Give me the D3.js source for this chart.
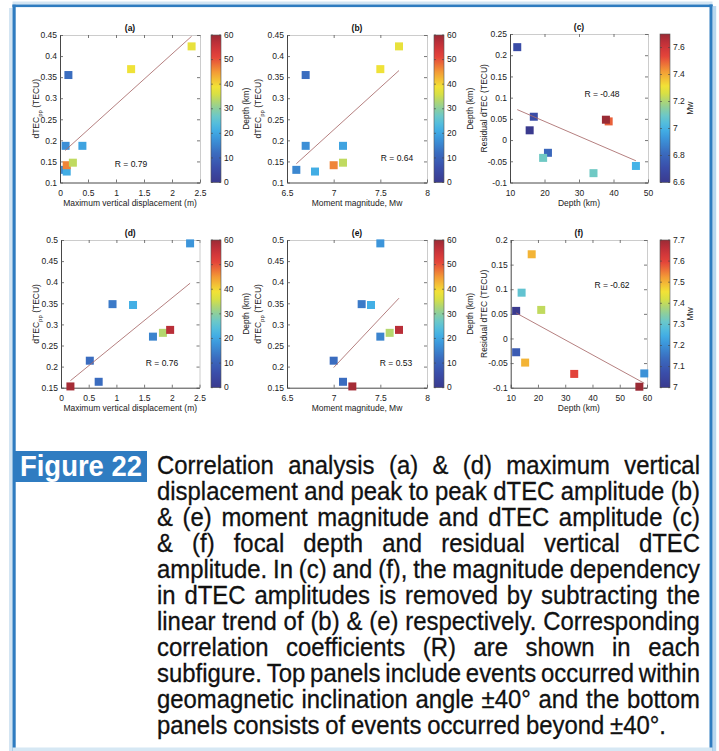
<!DOCTYPE html>
<html>
<head>
<meta charset="utf-8">
<script src="https://cdn.jsdelivr.net/npm/d3@7"></script>
<style>
  html, body { margin: 0; padding: 0; background: #fff; }
  svg { display: block; }
</style>
</head>
<body>
<svg id="fig" width="719" height="751"></svg>
<script>
// ---------------- data ----------------
// Upper row: events within geomagnetic inclination ±40°
const topDisp  = [0.09, 0.15, 0.10, 0.12, 0.12, 0.40, 0.23, 1.27, 2.35];
const topMw    = [6.6, 6.7, 6.7, 6.8, 7.0, 7.1, 7.1, 7.5, 7.7];
const topDtec  = [0.130, 0.355, 0.187, 0.126, 0.141, 0.187, 0.147, 0.369, 0.423];
const topDepth = [15.7, 12.1, 16.9, 21.0, 46.5, 19.6, 34.2, 38.6, 37.8];
const topResid = [0.023, 0.219, 0.055, -0.030, -0.061, -0.042, -0.078, 0.044, 0.048];

// Lower row: events beyond ±40°
const botDisp  = [2.33, 0.93, 1.30, 1.66, 1.84, 1.97, 0.52, 0.68, 0.17];
const botMw    = [7.5, 7.3, 7.4, 7.5, 7.6, 7.7, 7.0, 7.1, 7.2];
const botDtec  = [0.492, 0.348, 0.346, 0.271, 0.280, 0.287, 0.214, 0.164, 0.153];
const botDepth = [17.7, 14.0, 21.2, 15.3, 33.3, 57.2, 12.0, 12.0, 59.0];
const botResid = [0.171, 0.093, 0.058, -0.049, -0.072, -0.098, 0.056, -0.028, -0.071];

// Tick values
const dispTicks     = [0, 0.5, 1, 1.5, 2, 2.5];
const mwTicks       = [6.5, 7, 7.5, 8];
const depthTicksTop = [10, 20, 30, 40, 50];
const depthTicksBot = [10, 20, 30, 40, 50, 60];
const dtecTopTicks  = [0.1, 0.15, 0.2, 0.25, 0.3, 0.35, 0.4, 0.45];
const dtecBotTicks  = [0.15, 0.2, 0.25, 0.3, 0.35, 0.4, 0.45, 0.5];
const residTopTicks = [-0.1, -0.05, 0, 0.05, 0.1, 0.15, 0.2, 0.25];
const residBotTicks = [-0.1, -0.05, 0, 0.05, 0.1, 0.15, 0.2];
const depthCbTicks  = [0, 10, 20, 30, 40, 50, 60];
const mwCbTicksTop  = [6.6, 6.8, 7, 7.2, 7.4, 7.6];
const mwCbTicksBot  = [7, 7.1, 7.2, 7.3, 7.4, 7.5, 7.6, 7.7];

// Correlation coefficients printed in each panel
const rLabels = { a: "R = 0.79", b: "R = 0.64", c: "R = -0.48", d: "R = 0.76", e: "R = 0.53", f: "R = -0.62" };

// Caption
const figureTag = "Figure 22";
const captionLines = [
  "Correlation analysis (a) & (d) maximum vertical",
  "displacement and peak to peak dTEC amplitude (b)",
  "& (e) moment magnitude and dTEC amplitude (c)",
  "& (f) focal depth and residual vertical dTEC",
  "amplitude. In (c) and (f), the magnitude dependency",
  "in dTEC amplitudes is removed by subtracting the",
  "linear trend of (b) & (e) respectively. Corresponding",
  "correlation coefficients (R) are shown in each",
  "subfigure. Top panels include events occurred within",
  "geomagnetic inclination angle \u00b140\u00b0 and the bottom",
  "panels consists of events occurred beyond \u00b140\u00b0."
];

// ---------------- styling ----------------
const FONT = "'Liberation Sans', Arial, Helvetica, sans-serif";
const CAPFONT = "'Liberation Sans Narrow', 'Liberation Sans', Arial, sans-serif";
const TXT = "#222";

// jet-like colormap (as printed)
const paletteStops  = [0, 0.1, 0.2, 0.3, 0.37, 0.45, 0.52, 0.6, 0.65, 0.75, 0.85, 0.93, 1];
const paletteColors = ["#3a3a8e", "#3a4eaa", "#3a6cbf", "#3c97db", "#45b6e8", "#6cc8c8",
                       "#98d08e", "#d8e044", "#f2e236", "#f39a36", "#e4453a", "#c8303a", "#9a2b35"];
const palette = d3.scaleLinear().domain(paletteStops).range(paletteColors)
  .interpolate(d3.interpolateRgb).clamp(true);

const svg = d3.select("#fig");
const defs = svg.append("defs");
const fmt = d => String(Math.round(d * 1000) / 1000);

// ---------------- outer frame ----------------
const frame = svg.append("g");
frame.append("rect").attr("x", 9).attr("y", 8).attr("width", 3.5).attr("height", 743).attr("fill", "#d3e5f3");
frame.append("rect").attr("x", 12.5).attr("y", 4.5).attr("width", 3.2).attr("height", 747).attr("fill", "#2f7cc0");
frame.append("rect").attr("x", 12.5).attr("y", 1.5).attr("width", 700).attr("height", 3).attr("fill", "#d3e5f3");
frame.append("rect").attr("x", 12.5).attr("y", 4.5).attr("width", 700).attr("height", 2.6).attr("fill", "#2f7cc0");
frame.append("rect").attr("x", 709.5).attr("y", 4.5).attr("width", 3.2).attr("height", 747).attr("fill", "#2f7cc0");
frame.append("rect").attr("x", 712.7).attr("y", 6).attr("width", 3.5).attr("height", 745).attr("fill", "#b9d8ef");
frame.append("rect").attr("x", 12.5).attr("y", 747.5).attr("width", 700).attr("height", 3.5).attr("fill", "#d6e8f4");

// ---------------- panels ----------------
function linFit(xs, ys) {
  const mx = d3.mean(xs), my = d3.mean(ys);
  let sxy = 0, sxx = 0;
  xs.forEach((v, i) => { sxy += (v - mx) * (ys[i] - my); sxx += (v - mx) * (v - mx); });
  const b = sxy / sxx;
  return { a: my - b * mx, b };
}

const panels = [
  { id: "a", xs: topDisp, ys: topDtec, cs: topDepth, xDomain: [0, 2.5], xTicks: dispTicks,
    yDomain: [0.1, 0.45], yTicks: dtecTopTicks, cDomain: [0, 60], cTicks: depthCbTicks,
    xLabel: "Maximum vertical displacement (m)", yKind: "dtec", cLabel: "Depth (km)",
    box: [60, 200, 35, 182.5], cb: [211, 221], yLabelX: 36, cLabelX: 246, rPos: [131, 167] },
  { id: "b", xs: topMw, ys: topDtec, cs: topDepth, xDomain: [6.5, 8], xTicks: mwTicks,
    yDomain: [0.1, 0.45], yTicks: dtecTopTicks, cDomain: [0, 60], cTicks: depthCbTicks,
    xLabel: "Moment magnitude, Mw", yKind: "dtec", cLabel: "Depth (km)",
    box: [287, 427, 35, 182.5], cb: [434, 444], yLabelX: 258, cLabelX: 470, rPos: [397, 160.5] },
  { id: "c", xs: topDepth, ys: topResid, cs: topMw, xDomain: [10, 50], xTicks: depthTicksTop,
    yDomain: [-0.1, 0.25], yTicks: residTopTicks, cDomain: [6.6, 7.7], cTicks: mwCbTicksTop,
    xLabel: "Depth (km)", yKind: "resid", cLabel: "Mw",
    box: [510, 648, 34, 182.5], cb: [660, 670], yLabelX: 484, cLabelX: 690, rPos: [602, 97.3] },
  { id: "d", xs: botDisp, ys: botDtec, cs: botDepth, xDomain: [0, 2.5], xTicks: dispTicks,
    yDomain: [0.15, 0.5], yTicks: dtecBotTicks, cDomain: [0, 60], cTicks: depthCbTicks,
    xLabel: "Maximum vertical displacement (m)", yKind: "dtec", cLabel: "Depth (km)",
    box: [61, 199.5, 240, 387.7], cb: [211, 221], yLabelX: 36, cLabelX: 246, rPos: [162, 365.7] },
  { id: "e", xs: botMw, ys: botDtec, cs: botDepth, xDomain: [6.5, 8], xTicks: mwTicks,
    yDomain: [0.15, 0.5], yTicks: dtecBotTicks, cDomain: [0, 60], cTicks: depthCbTicks,
    xLabel: "Moment magnitude, Mw", yKind: "dtec", cLabel: "Depth (km)",
    box: [287, 427, 240, 387.7], cb: [434, 444], yLabelX: 258, cLabelX: 470, rPos: [396, 365.7] },
  { id: "f", xs: botDepth, ys: botResid, cs: botMw, xDomain: [10, 60], xTicks: depthTicksBot,
    yDomain: [-0.1, 0.2], yTicks: residBotTicks, cDomain: [7.0, 7.7], cTicks: mwCbTicksBot,
    xLabel: "Depth (km)", yKind: "resid", cLabel: "Mw",
    box: [510.7, 647, 240, 387.7], cb: [660, 670], yLabelX: 484, cLabelX: 690, rPos: [612, 287.7] }
];

function styleAxis(sel, domainColor) {
  sel.select(".domain").attr("stroke", domainColor).attr("stroke-width", 0.9);
  sel.selectAll(".tick line").attr("stroke", "#555").attr("stroke-width", 0.8);
  sel.selectAll(".tick text").attr("fill", TXT).attr("font-family", FONT).attr("font-size", 8.5);
}

function drawPanel(p) {
  const [L, R, T, B] = p.box;
  const x = d3.scaleLinear().domain(p.xDomain).range([L, R]);
  const y = d3.scaleLinear().domain(p.yDomain).range([B, T]);
  const g = svg.append("g").attr("class", "panel-" + p.id);

  // top / right frame with inward ticks
  g.append("g").attr("transform", `translate(0,${T})`)
    .call(d3.axisTop(x).tickValues(p.xTicks).tickSizeInner(-3).tickSizeOuter(0).tickFormat(""))
    .call(s => styleAxis(s, "#c6c6c6"));
  g.append("g").attr("transform", `translate(${R},0)`)
    .call(d3.axisRight(y).tickValues(p.yTicks).tickSizeInner(-3).tickSizeOuter(0).tickFormat(""))
    .call(s => styleAxis(s, "#c6c6c6"));
  // labelled bottom / left axes
  g.append("g").attr("transform", `translate(0,${B})`)
    .call(d3.axisBottom(x).tickValues(p.xTicks).tickSizeInner(-3).tickSizeOuter(0).tickPadding(7.5).tickFormat(fmt))
    .call(s => styleAxis(s, "#333"));
  g.append("g").attr("transform", `translate(${L},0)`)
    .call(d3.axisLeft(y).tickValues(p.yTicks).tickSizeInner(-3).tickSizeOuter(0).tickPadding(3).tickFormat(fmt))
    .call(s => styleAxis(s, "#333"));

  // title
  g.append("text").attr("x", (L + R) / 2).attr("y", T - 4)
    .attr("text-anchor", "middle").attr("font-family", FONT).attr("font-weight", "bold")
    .attr("font-size", 8.5).attr("fill", "#111").text("(" + p.id + ")");

  // axis labels
  g.append("text").attr("x", (L + R) / 2).attr("y", B + 23.5)
    .attr("text-anchor", "middle").attr("font-family", FONT).attr("font-size", 8.5)
    .attr("fill", TXT).text(p.xLabel);

  const yl = g.append("text")
    .attr("transform", `translate(${p.yLabelX + 3},${(T + B) / 2}) rotate(-90)`)
    .attr("text-anchor", "middle").attr("font-family", FONT).attr("font-size", 8.5).attr("fill", TXT);
  if (p.yKind === "dtec") {
    yl.append("tspan").text("dTEC");
    yl.append("tspan").attr("dy", 2.5).attr("font-size", 6).text("pp");
    yl.append("tspan").attr("dy", -2.5).text(" (TECU)");
  } else {
    yl.text("Residual dTEC (TECU)");
  }

  // colour scale for this panel
  const [c0, c1] = p.cDomain;
  const colorOf = v => palette((v - c0) / (c1 - c0));

  // markers
  const n = p.xs.length;
  const sz = 8;
  g.append("g").selectAll("rect").data(d3.range(n)).join("rect")
    .attr("x", i => x(p.xs[i]) - sz / 2)
    .attr("y", i => y(p.ys[i]) - sz / 2)
    .attr("width", sz).attr("height", sz)
    .attr("fill", i => colorOf(p.cs[i]));

  // least-squares trend line
  const f = linFit(p.xs, p.ys);
  const xa = d3.min(p.xs), xb = d3.max(p.xs);
  g.append("line")
    .attr("x1", x(xa)).attr("y1", y(f.a + f.b * xa))
    .attr("x2", x(xb)).attr("y2", y(f.a + f.b * xb))
    .attr("stroke", "#a86a6a").attr("stroke-width", 1).attr("stroke-opacity", 0.85);

  // correlation coefficient
  g.append("text").attr("x", p.rPos[0]).attr("y", p.rPos[1])
    .attr("text-anchor", "middle").attr("font-family", FONT).attr("font-size", 8.5)
    .attr("fill", "#111").text(rLabels[p.id]);

  // colorbar
  const gradId = "grad-" + p.id;
  const grad = defs.append("linearGradient").attr("id", gradId)
    .attr("x1", 0).attr("y1", 1).attr("x2", 0).attr("y2", 0);
  d3.range(0, 1.0001, 0.05).forEach(t => {
    grad.append("stop").attr("offset", t).attr("stop-color", palette(t));
  });
  const [cbL, cbR] = p.cb;
  const cy = d3.scaleLinear().domain(p.cDomain).range([B, T]);
  g.append("rect").attr("x", cbL).attr("y", T).attr("width", cbR - cbL).attr("height", B - T)
    .attr("fill", `url(#${gradId})`).attr("stroke", "#555").attr("stroke-width", 0.6);
  const cbTicks = g.append("g");
  p.cTicks.forEach(v => {
    const ty = cy(v);
    cbTicks.append("line").attr("x1", cbL).attr("x2", cbL + 2).attr("y1", ty).attr("y2", ty)
      .attr("stroke", "#444").attr("stroke-width", 0.6);
    cbTicks.append("line").attr("x1", cbR - 2).attr("x2", cbR).attr("y1", ty).attr("y2", ty)
      .attr("stroke", "#444").attr("stroke-width", 0.6);
    cbTicks.append("text").attr("x", cbR + 3).attr("y", ty).attr("dy", "0.32em")
      .attr("font-family", FONT).attr("font-size", 8.5).attr("fill", TXT).text(fmt(v));
  });
  g.append("text")
    .attr("transform", `translate(${p.cLabelX + 3},${(T + B) / 2}) rotate(-90)`)
    .attr("text-anchor", "middle").attr("font-family", FONT).attr("font-size", 8.5)
    .attr("fill", TXT).text(p.cLabel);
}

panels.forEach(drawPanel);

// ---------------- caption ----------------
svg.append("rect").attr("x", 15).attr("y", 451).attr("width", 132).attr("height", 31)
  .attr("fill", "#2f7cc1");
const tag = svg.append("text").attr("font-family", CAPFONT).attr("font-weight", "bold")
  .attr("font-size", 30).attr("fill", "#fff").text(figureTag);
const tagW = tag.node().getComputedTextLength();
tag.attr("transform", `translate(20,475.5) scale(${122 / tagW},1)`);

const capLeft = 157, capRight = 700, capBase0 = 473.5, capStep = 26.05, capSize = 25.5;
const capG = svg.append("g").attr("font-family", CAPFONT).attr("font-size", capSize)
  .attr("fill", "#111").attr("stroke", "#111").attr("stroke-width", 0.3);
const lineData = captionLines.map(line => {
  const lg = capG.append("g");
  const words = line.split(" ");
  const nodes = words.map(w => lg.append("text").text(w));
  const widths = nodes.map(nd => nd.node().getComputedTextLength());
  return { lg, nodes, widths };
});
const avail = capRight - capLeft;
const minGap = 0.2 * capSize;
let sx = d3.min(lineData.slice(0, -1), Ld => avail / (d3.sum(Ld.widths) + minGap * (Ld.widths.length - 1)));
sx = Math.max(0.6, Math.min(1.25, sx));
lineData.forEach((Ld, li) => {
  const last = li === lineData.length - 1;
  const sum = d3.sum(Ld.widths);
  const gap = last ? 0.24 * capSize : (avail / sx - sum) / (Ld.widths.length - 1);
  let cx = 0;
  Ld.nodes.forEach((nd, i) => { nd.attr("x", cx); cx += Ld.widths[i] + gap; });
  Ld.lg.attr("transform", `translate(${capLeft},${capBase0 + li * capStep}) scale(${sx},1)`);
});
</script>
</body>
</html>
